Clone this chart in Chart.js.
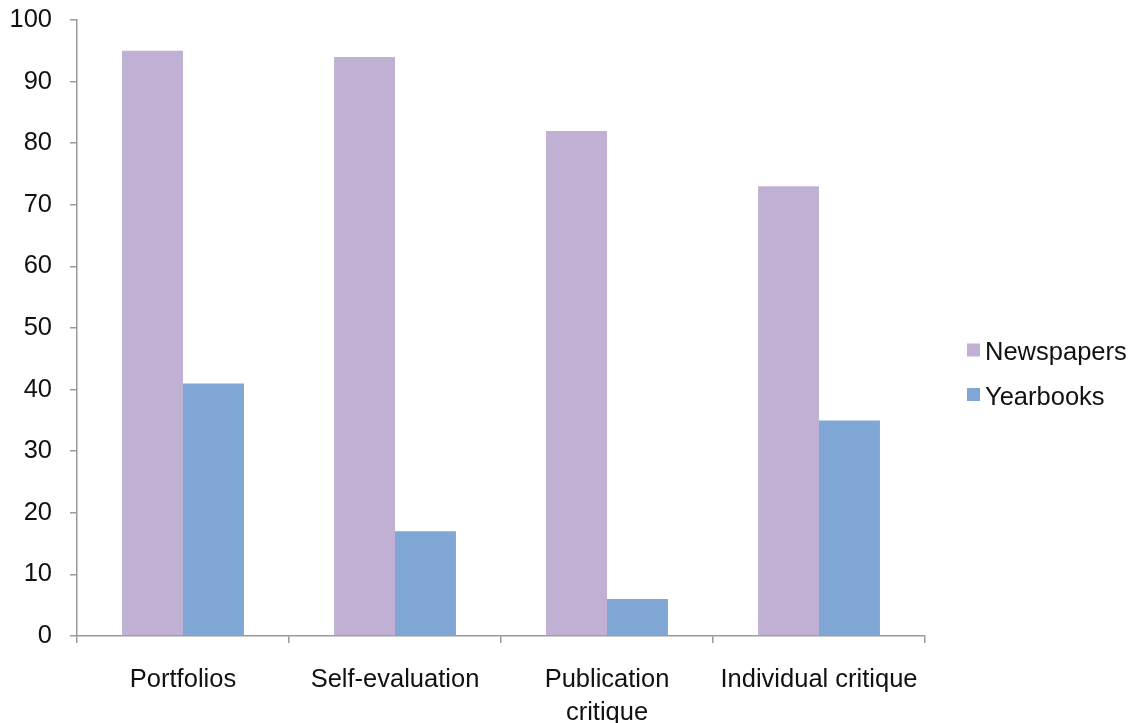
<!DOCTYPE html>
<html>
<head>
<meta charset="utf-8">
<script src="https://cdn.jsdelivr.net/npm/chart.js@4/dist/chart.umd.min.js"></script>
<style>
  html, body { margin: 0; padding: 0; background: #fff; }
  #wrap { width: 1135px; height: 723px; position: relative; }
</style>
</head>
<body>
<div id="wrap"><canvas id="c" width="1135" height="723"></canvas></div>
<script>
// Categories and series values
const categories = ['Portfolios', 'Self-evaluation', ['Publication', 'critique'], 'Individual critique'];
const newspapers = [95, 94, 82, 73];
const yearbooks = [41, 17, 6, 35];
const seriesNames = ['Newspapers', 'Yearbooks'];
const yTicks = [0, 10, 20, 30, 40, 50, 60, 70, 80, 90, 100];

const colors = ['#C0B1D4', '#7FA6D4'];
const FONT = '"Liberation Sans", Arial, Helvetica, sans-serif';
const FONT_SIZE = 25.5;
const axisColor = '#9a9a9a';

// Legend drawn at the right side, next to the plot
const sideLegend = {
  id: 'sideLegend',
  afterDraw(chart) {
    const ctx = chart.ctx;
    ctx.save();
    ctx.font = FONT_SIZE + 'px ' + FONT;
    ctx.textBaseline = 'middle';
    ctx.textAlign = 'left';
    const x = 967, y0 = 350, step = 44.5;
    chart.data.datasets.forEach((ds, i) => {
      const y = y0 + i * step;
      ctx.fillStyle = ds.backgroundColor;
      ctx.fillRect(x, y - 6.5, 13, 13);
      ctx.fillStyle = '#111';
      ctx.fillText(ds.label, x + 18, y + 3);
    });
    ctx.restore();
  }
};

new Chart(document.getElementById('c'), {
  type: 'bar',
  data: {
    labels: categories,
    datasets: [
      { label: seriesNames[0], data: newspapers, backgroundColor: colors[0] },
      { label: seriesNames[1], data: yearbooks, backgroundColor: colors[1] }
    ]
  },
  options: {
    responsive: false,
    animation: false,
    devicePixelRatio: 1,
    layout: { padding: { top: 20, right: 210, left: 0, bottom: 0 } },
    plugins: { legend: { display: false }, tooltip: { enabled: false } },
    datasets: { bar: { categoryPercentage: 0.575, barPercentage: 1.0 } },
    scales: {
      x: {
        offset: true,
        grid: { offset: true, drawOnChartArea: false, drawTicks: true, tickLength: 7, color: axisColor, lineWidth: 1.5 },
        border: { color: axisColor, width: 1.5 },
        ticks: { color: '#111', font: { family: FONT, size: FONT_SIZE, lineHeight: 1.3 }, padding: 20, maxRotation: 0, autoSkip: false },
        afterFit(scale) { scale.height = 87; scale.paddingLeft = 0; scale.paddingRight = 0; }
      },
      y: {
        min: 0, max: 100,
        afterBuildTicks(scale) { scale.ticks = yTicks.map(v => ({ value: v })); },
        grid: { drawOnChartArea: false, drawTicks: true, tickLength: 7, color: axisColor, lineWidth: 1.5 },
        border: { color: axisColor, width: 1.5 },
        ticks: { color: '#111', font: { family: FONT, size: FONT_SIZE }, padding: 18 },
        afterFit(scale) { scale.width = 77; scale.paddingTop = 0; scale.paddingBottom = 0; }
      }
    }
  },
  plugins: [sideLegend]
});
</script>
</body>
</html>
